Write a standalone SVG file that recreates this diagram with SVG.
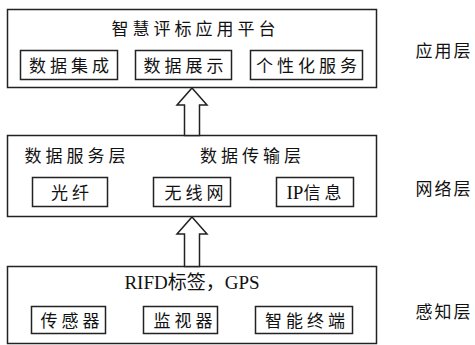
<svg xmlns="http://www.w3.org/2000/svg" width="475" height="345" viewBox="0 0 475 345">
<style>
.box{fill:#fff;stroke:#222;stroke-width:1.5}
.ibox{fill:#fff;stroke:#222;stroke-width:1.5}
.t{font-family:"Liberation Serif","Noto Sans CJK SC",serif;font-size:17px;fill:#111;text-anchor:middle;letter-spacing:4px}
.side{font-family:"Liberation Serif","Noto Sans CJK SC",serif;font-size:17px;fill:#111;text-anchor:middle;letter-spacing:2px}
.lat{font-family:"Liberation Serif","Noto Sans CJK SC",serif;font-size:19px;fill:#111;text-anchor:middle}
.arrow{fill:#fff;stroke:#222;stroke-width:1.5;stroke-linejoin:miter}
</style>
<rect width="475" height="345" fill="#fff"/>
<g id="application-layer">
<rect class="box" x="7.5" y="9.5" width="369" height="78"/>
<text class="t" x="195.5" y="35">智慧评标应用平台</text>
<g id="data-integration"><rect class="ibox" x="20.5" y="50.5" width="97" height="29"/><text class="t" x="71" y="72">数据集成</text></g>
<g id="data-display"><rect class="ibox" x="135.5" y="50.5" width="96" height="29"/><text class="t" x="185.5" y="72">数据展示</text></g>
<g id="personal-service"><rect class="ibox" x="250.5" y="50.5" width="112" height="29"/><text class="t" x="308.5" y="72">个性化服务</text></g>
</g>
<g id="network-layer">
<rect class="box" x="7.5" y="135.5" width="369" height="81"/>
<text class="t" x="77" y="162">数据服务层</text>
<text class="t" x="252.5" y="162">数据传输层</text>
<g id="fiber"><rect class="ibox" x="32.5" y="177.5" width="75" height="29"/><text class="t" x="72" y="199">光纤</text></g>
<g id="wireless"><rect class="ibox" x="153.5" y="177.5" width="77" height="29"/><text class="t" x="196" y="199">无线网</text></g>
<g id="ip-info"><rect class="ibox" x="276.5" y="177.5" width="77" height="29"/><text class="t" x="316" y="199"><tspan style="font-size:19px;letter-spacing:0">IP</tspan>信息</text></g>
</g>
<g id="perception-layer">
<rect class="box" x="7.5" y="266.5" width="369" height="77"/>
<text class="lat" x="192" y="289">RIFD标签，GPS</text>
<g id="sensor"><rect class="ibox" x="31.5" y="306.5" width="74" height="27"/><text class="t" x="72" y="327">传感器</text></g>
<g id="monitor"><rect class="ibox" x="143.5" y="306.5" width="74" height="27"/><text class="t" x="185" y="327">监视器</text></g>
<g id="smart-terminal"><rect class="ibox" x="255.5" y="306.5" width="97" height="27"/><text class="t" x="307" y="327">智能终端</text></g>
</g>
<g id="connectors">
<polygon class="arrow" points="192,88 207,105 199.5,105 199.5,135.5 184.5,135.5 184.5,105 177,105"/>
<polygon class="arrow" points="192,217 207,234 199.5,234 199.5,266.5 184.5,266.5 184.5,234 177,234"/>
</g>
<g id="layer-labels">
<text class="side" x="444" y="57">应用层</text>
<text class="side" x="444" y="195">网络层</text>
<text class="side" x="444" y="318">感知层</text>
</g>
</svg>
